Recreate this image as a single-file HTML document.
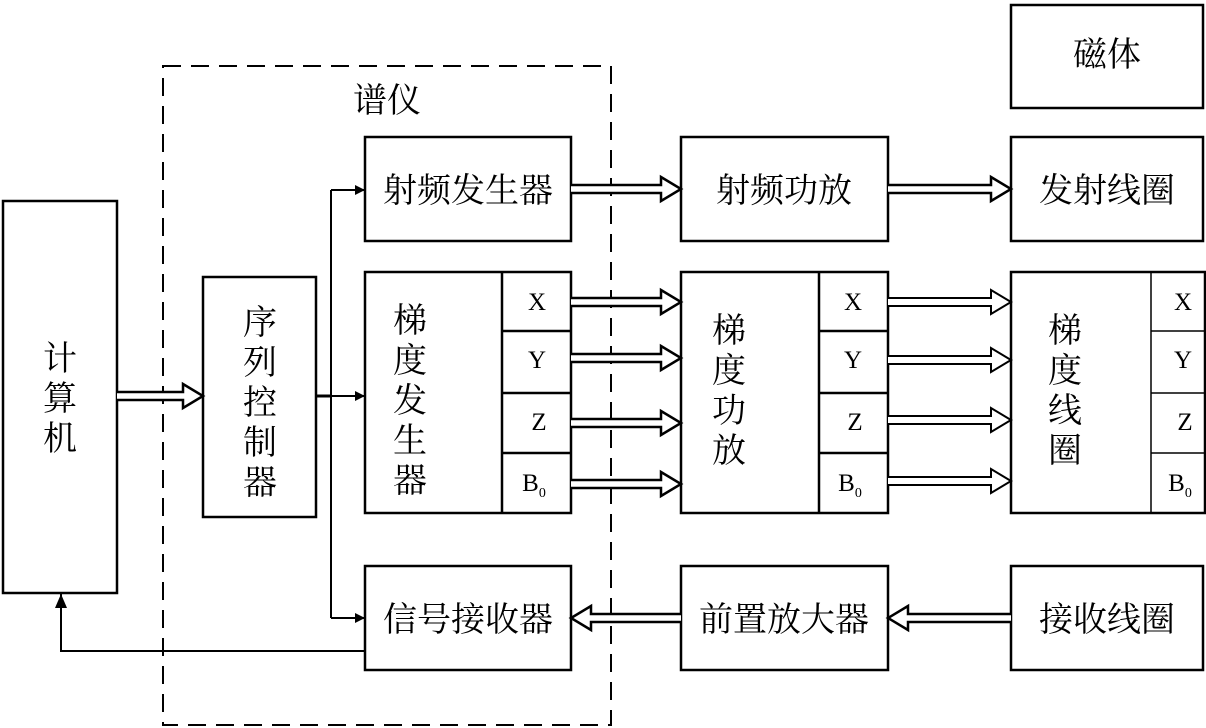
<!DOCTYPE html>
<html><head><meta charset="utf-8"><style>
html,body{margin:0;padding:0;background:#fff;}
svg{display:block;}
.c{font-family:"Liberation Serif","Noto Serif CJK SC",serif;font-size:34px;fill:#000;}
.l{font-family:"Liberation Serif",serif;font-size:25px;fill:#000;}
</style></head><body>
<svg width="1206" height="728" viewBox="0 0 1206 728" xmlns="http://www.w3.org/2000/svg">
<defs><marker id="a" markerWidth="10" markerHeight="10" refX="9" refY="5" orient="auto" markerUnits="userSpaceOnUse"><path d="M0,0 L10,5 L0,10 z" fill="#000"/></marker>
<marker id="b" markerWidth="14" markerHeight="12" refX="14" refY="6" orient="auto" markerUnits="userSpaceOnUse"><path d="M0,0 L14,6 L0,12 z" fill="#000"/></marker></defs>
<g fill="none" stroke="#000" stroke-width="2.5">
<rect x="163" y="66" width="448" height="659" stroke-dasharray="18,10" stroke-width="2"/>
<rect x="3" y="201" width="114" height="392" fill="#fff"/>
<rect x="203" y="277" width="113" height="240" fill="#fff"/>
<rect x="1011" y="5" width="192" height="103"/>
<rect x="365" y="137" width="206" height="104" fill="#fff"/>
<rect x="681" y="137" width="207" height="104" fill="#fff"/>
<rect x="1011" y="137" width="192" height="104"/>
<rect x="365" y="272" width="206" height="241" fill="#fff"/>
<line x1="502" y1="272" x2="502" y2="513"/>
<line x1="502" y1="331" x2="571" y2="331"/><line x1="502" y1="393" x2="571" y2="393"/><line x1="502" y1="453" x2="571" y2="453"/>
<rect x="681" y="272" width="207" height="241" fill="#fff"/>
<line x1="819" y1="272" x2="819" y2="513"/>
<line x1="819" y1="331" x2="888" y2="331"/><line x1="819" y1="393" x2="888" y2="393"/><line x1="819" y1="453" x2="888" y2="453"/>
<rect x="1011" y="272" width="194" height="241"/>
<line x1="1151" y1="272" x2="1151" y2="513" stroke-width="1.5"/>
<line x1="1151" y1="331" x2="1205" y2="331" stroke-width="1.5"/><line x1="1151" y1="393" x2="1205" y2="393" stroke-width="1.5"/><line x1="1151" y1="453" x2="1205" y2="453" stroke-width="1.5"/>
<rect x="365" y="566" width="206" height="104" fill="#fff"/>
<rect x="681" y="566" width="207" height="104" fill="#fff"/>
<rect x="1011" y="566" width="192" height="104"/>
</g>
<g fill="#fff" stroke="#000" stroke-width="2.5" stroke-linejoin="miter">
<path d="M117,392 L183,392 L183,384 L203,396 L183,408 L183,400 L117,400"/>
<path d="M571,185 L661,185 L661,177 L681,189 L661,201 L661,193 L571,193"/>
<path d="M888,185 L991,185 L991,177 L1011,189 L991,201 L991,193 L888,193"/>
<path d="M571,298 L661,298 L661,290 L681,302 L661,314 L661,306 L571,306"/>
<path d="M571,354 L661,354 L661,346 L681,358 L661,370 L661,362 L571,362"/>
<path d="M571,419 L661,419 L661,411 L681,423 L661,435 L661,427 L571,427"/>
<path d="M571,480 L661,480 L661,472 L681,484 L661,496 L661,488 L571,488"/>
<path d="M888,298 L991,298 L991,290 L1011,302 L991,314 L991,306 L888,306" stroke-width="2"/>
<path d="M888,356 L991,356 L991,348 L1011,360 L991,372 L991,364 L888,364" stroke-width="2"/>
<path d="M888,416 L991,416 L991,408 L1011,420 L991,432 L991,424 L888,424" stroke-width="2"/>
<path d="M888,477 L991,477 L991,469 L1011,481 L991,493 L991,485 L888,485" stroke-width="2"/>
<path d="M1011,614 L908,614 L908,606 L888,618 L908,630 L908,622 L1011,622"/>
<path d="M681,614 L591,614 L591,606 L571,618 L591,630 L591,622 L681,622"/>
</g>
<g fill="none" stroke="#000" stroke-width="2">
<line x1="316" y1="396" x2="331" y2="396" stroke-width="3"/>
<line x1="331" y1="190" x2="331" y2="618"/>
<line x1="331" y1="190" x2="364" y2="190" marker-end="url(#a)"/>
<line x1="331" y1="396" x2="364" y2="396" marker-end="url(#a)"/>
<line x1="331" y1="618" x2="364" y2="618" marker-end="url(#a)"/>
<polyline points="365,651 61,651 61,594" marker-end="url(#b)"/>
</g>
<g class="c">
<text x="1107" y="66" text-anchor="middle">磁体</text>
<text x="387" y="112" text-anchor="middle">谱仪</text>
<text x="468" y="202" text-anchor="middle">射频发生器</text>
<text x="784" y="202" text-anchor="middle">射频功放</text>
<text x="1107" y="202" text-anchor="middle">发射线圈</text>
<text x="468" y="631" text-anchor="middle">信号接收器</text>
<text x="784" y="631" text-anchor="middle">前置放大器</text>
<text x="1107" y="631" text-anchor="middle">接收线圈</text>
<g text-anchor="middle">
<text x="60" y="370">计</text><text x="60" y="410">算</text><text x="60" y="450">机</text>
<text x="260" y="334">序</text><text x="260" y="374">列</text><text x="260" y="414">控</text><text x="260" y="454">制</text><text x="260" y="494">器</text>
<text x="410" y="332">梯</text><text x="410" y="372">度</text><text x="410" y="412">发</text><text x="410" y="452">生</text><text x="410" y="492">器</text>
<text x="729" y="342">梯</text><text x="729" y="382">度</text><text x="729" y="422">功</text><text x="729" y="462">放</text>
<text x="1065" y="342">梯</text><text x="1065" y="382">度</text><text x="1065" y="422">线</text><text x="1065" y="462">圈</text>
</g></g>
<g class="l" text-anchor="middle">
<text x="537" y="310">X</text><text x="537" y="368">Y</text><text x="539" y="430">Z</text><text x="534" y="491">B<tspan font-size="14" dy="6">0</tspan></text>
<text x="853" y="310">X</text><text x="853" y="368">Y</text><text x="855" y="430">Z</text><text x="850" y="491">B<tspan font-size="14" dy="6">0</tspan></text>
<text x="1183" y="310">X</text><text x="1183" y="368">Y</text><text x="1185" y="430">Z</text><text x="1180" y="491">B<tspan font-size="14" dy="6">0</tspan></text>
</g>
</svg>
</body></html>
